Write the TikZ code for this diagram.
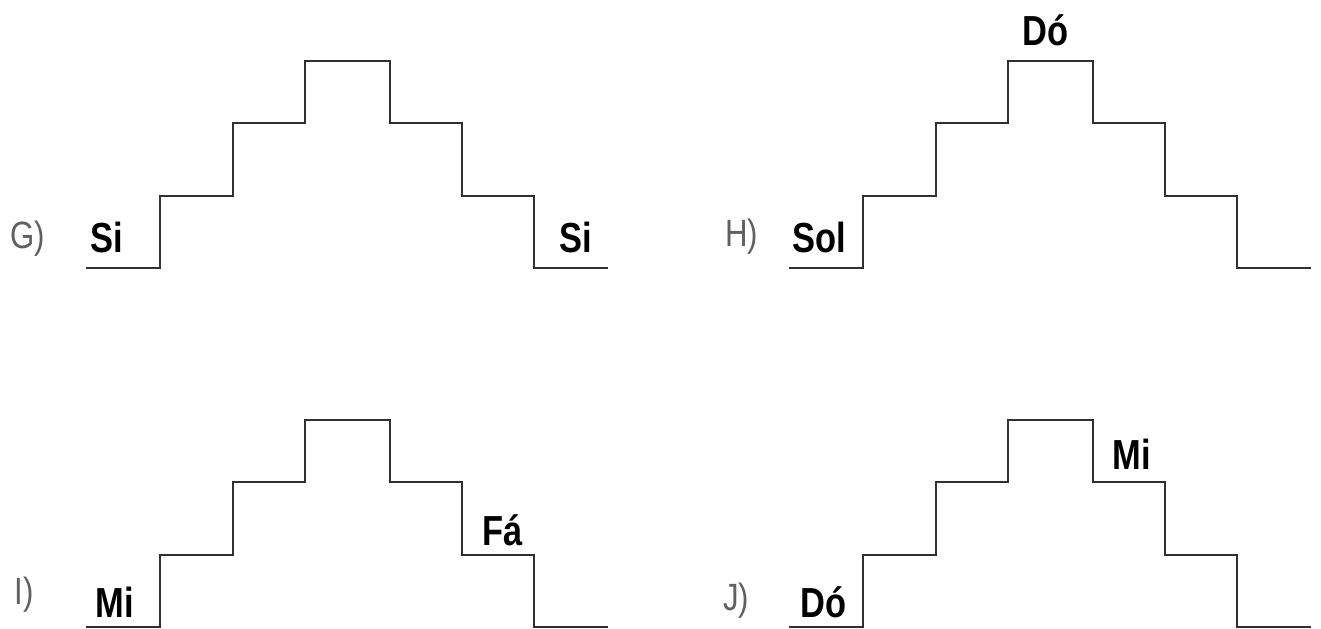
\documentclass[tikz,border=0pt]{standalone}
\usepackage{fontspec}
\setmainfont{Liberation Sans}
\newfontfamily\narrowfont[FakeStretch=0.82]{Liberation Sans}
\definecolor{stairgray}{HTML}{303030}
\definecolor{lettergray}{HTML}{606060}

\begin{document}
\begin{tikzpicture}[x=0.5pt, y=-0.5pt,
  stair/.style={line width=1.2pt, draw=stairgray},
  note/.style={font=\narrowfont\fontsize{21}{21}\selectfont\bfseries, anchor=base west, inner sep=0pt},
  letter/.style={font=\narrowfont\fontsize{19}{19}\selectfont, text=lettergray, anchor=base west, inner sep=0pt}]
  \useasboundingbox (0,0) rectangle (1321,628);

  % the four staircases
  \foreach \dx/\dy in {0/0, 703/0, 0/359, 703/359}
    \draw [stair, shift={(\dx,\dy)}] (86,268) -| (160,196) -| (233,123) -| (305,61)
      -| (390,123) -| (462,196) -| (534,268) -- (608,268);

  \node [letter] (lblG) at (10,248)  {G)};
  \node [note]   (siG1) at (90,252)  {Si};
  \node [note]   (siG2) at (559,252) {Si};

  \node [letter] (lblH) at (725,246) {H)};
  \node [note]   (solH) at (792,252) {Sol};
  \node [note]   (doH)  at (1022,45) {Dó};

  \node [letter] (lblI) at (14,604)  {I)};
  \node [note]   (miI)  at (95,617)  {Mi};
  \node [note]   (faI)  at (482,545) {Fá};

  \node [letter] (lblJ) at (723,610) {J)};
  \node [note]   (doJ)  at (800,617) {Dó};
  \node [note]   (miJ)  at (1112,469) {Mi};
\end{tikzpicture}
\end{document}
